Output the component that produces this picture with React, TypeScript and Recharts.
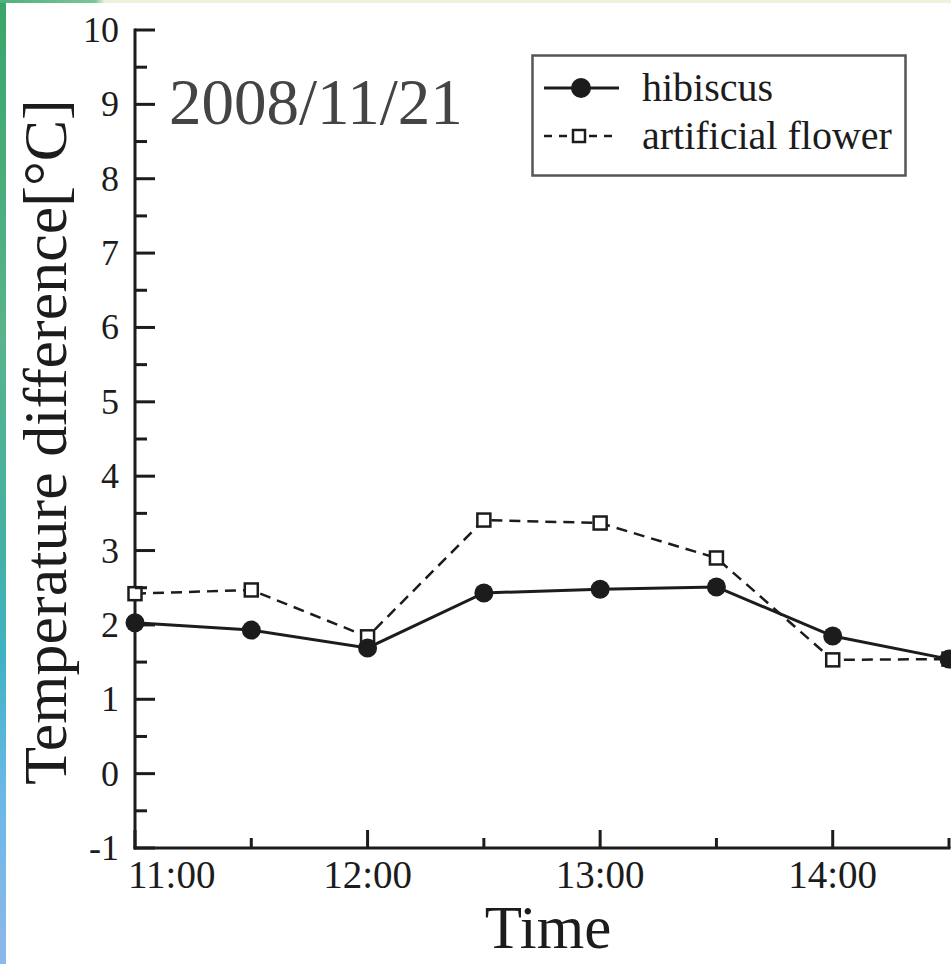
import React from "react";
import { LineChart, Line, XAxis, YAxis, Legend } from "recharts";

// time of day in hours (11.5 = 11:30)
const times = [11, 11.5, 12, 12.5, 13, 13.5, 14, 14.5];
const hibiscus = [2.03, 1.93, 1.69, 2.43, 2.48, 2.51, 1.85, 1.54];
const artificialFlower = [2.42, 2.47, 1.84, 3.41, 3.37, 2.9, 1.53, 1.54];

const xTicks = [11, 11.5, 12, 12.5, 13, 13.5, 14, 14.5];
const xTickLabels: Record<number, string> = { 11: "11:00", 12: "12:00", 13: "13:00", 14: "14:00" };
const yTicks = [-1, -0.5, 0, 0.5, 1, 1.5, 2, 2.5, 3, 3.5, 4, 4.5, 5, 5.5, 6, 6.5, 7, 7.5, 8, 8.5, 9, 9.5, 10];

const data = times.map((t, i) => ({
  time: t,
  hibiscus: hibiscus[i],
  artificial: artificialFlower[i],
}));

const FONT = "Liberation Serif, Times New Roman, serif";
const INK = "#1c1c1c";

function BottomTick(props: any) {
  const { x, y, payload } = props;
  const v = payload.value as number;
  const major = Number.isInteger(v);
  const label = xTickLabels[v];
  const first = v === xTicks[0];
  return (
    <g>
      <line x1={x} y1={y} x2={x} y2={y - (major ? 18 : 10)} stroke={INK} strokeWidth={3} />
      {label && (
        <text
          x={first ? x - 7 : x}
          y={y + 40}
          textAnchor={first ? "start" : "middle"}
          fontFamily={FONT}
          fontSize={39}
          fill={INK}
        >
          {label}
        </text>
      )}
    </g>
  );
}

function TopTick(props: any) {
  const { x, y, payload } = props;
  const major = Number.isInteger(payload.value);
  return <line x1={x} y1={y} x2={x} y2={y + (major ? 20 : 10)} stroke={INK} strokeWidth={3} />;
}

function LeftTick(props: any) {
  const { x, y, payload } = props;
  const v = payload.value as number;
  const major = Number.isInteger(v);
  return (
    <g>
      <line x1={x} y1={y} x2={x + (major ? 20 : 12)} y2={y} stroke={INK} strokeWidth={3} />
      {major && (
        <text
          x={x - 16}
          y={y + 12}
          textAnchor="end"
          fontFamily={FONT}
          fontSize={36}
          fill={INK}
        >
          {v}
        </text>
      )}
    </g>
  );
}

function RightTick(props: any) {
  const { x, y, payload } = props;
  const major = Number.isInteger(payload.value);
  return <line x1={x} y1={y} x2={x - (major ? 20 : 12)} y2={y} stroke={INK} strokeWidth={3} />;
}

function LegendBox() {
  return (
    <svg width={376} height={124} style={{ display: "block" }}>
      <rect x={1.5} y={1.5} width={373} height={120} fill="#fff" stroke="#555" strokeWidth={2.5} />
      <line x1={13} y1={34} x2={88} y2={34} stroke={INK} strokeWidth={3} />
      <circle cx={50} cy={34} r={10} fill={INK} />
      <text x={111} y={47} fontFamily={FONT} fontSize={40} fill={INK}>
        hibiscus
      </text>
      <line x1={13} y1={82} x2={88} y2={82} stroke={INK} strokeWidth={2.5} strokeDasharray="8 7" />
      <rect x={42} y={76} width={12} height={12} fill="#fff" stroke={INK} strokeWidth={2.5} />
      <text x={111} y={95} fontFamily={FONT} fontSize={40} fill={INK}>
        artificial flower
      </text>
    </svg>
  );
}

export default function App() {
  return (
    <div
      style={{
        position: "absolute",
        left: 0,
        top: 0,
        width: 951,
        height: 964,
        background: "#fff",
        overflow: "hidden",
      }}
    >
      <div
        style={{
          position: "absolute",
          left: 0,
          top: 0,
          width: 6,
          height: 964,
          background:
            "linear-gradient(to bottom, #3aa56a 0%, #58b48c 35%, #45b0a0 55%, #3fb2c4 68%, #6ab8e6 82%, #8db8ea 100%)",
        }}
      />
      <div
        style={{
          position: "absolute",
          left: 0,
          top: 0,
          width: 951,
          height: 3,
          background: "linear-gradient(to right, #4fb27a 0%, #7cc49a 10%, #eef2d8 11%, #eef2d8 100%)",
        }}
      />
      <div
        style={{
          position: "absolute",
          left: 169,
          top: 62,
          fontFamily: FONT,
          fontSize: 65,
          color: "#444",
          lineHeight: "80px",
          whiteSpace: "nowrap",
        }}
      >
        2008/11/21
      </div>
      <LineChart
        width={951}
        height={964}
        data={data}
        margin={{ top: 30, right: 2, bottom: 0, left: 0 }}
        style={{ position: "absolute", left: 0, top: 0 }}
      >
        <XAxis
          xAxisId="b"
          dataKey="time"
          type="number"
          domain={[11, 14.5]}
          ticks={xTicks}
          interval={0}
          height={116}
          tickSize={0}
          tickMargin={0}
          tickLine={false}
          axisLine={{ stroke: INK, strokeWidth: 3, strokeLinecap: "square" }}
          tick={<BottomTick />}
          label={{
            content: (p: any) => (
              <text
                x={p.viewBox.x + p.viewBox.width / 2 + 6}
                y={p.viewBox.y + 100}
                textAnchor="middle"
                fontFamily={FONT}
                fontSize={61}
                fill={INK}
              >
                Time
              </text>
            ),
          }}
        />
        <XAxis
          xAxisId="t"
          dataKey="time"
          type="number"
          orientation="top"
          domain={[11, 14.5]}
          ticks={xTicks}
          interval={0}
          height={0}
          tickSize={0}
          tickMargin={0}
          tickLine={false}
          axisLine={{ stroke: INK, strokeWidth: 3, strokeLinecap: "square" }}
          tick={<TopTick />}
        />
        <YAxis
          yAxisId="l"
          type="number"
          domain={[-1, 10]}
          ticks={yTicks}
          interval={0}
          width={135}
          tickSize={0}
          tickMargin={0}
          tickLine={false}
          axisLine={{ stroke: INK, strokeWidth: 3, strokeLinecap: "square" }}
          tick={<LeftTick />}
          label={{
            content: (p: any) => {
              const cx = 66;
              const cy = p.viewBox.y + p.viewBox.height / 2 + 3;
              return (
                <text
                  x={cx}
                  y={cy}
                  transform={`rotate(-90 ${cx} ${cy})`}
                  textAnchor="middle"
                  fontFamily={FONT}
                  fontSize={62}
                  fill={INK}
                >
                  Temperature difference[°C]
                </text>
              );
            },
          }}
        />
        <YAxis
          yAxisId="r"
          orientation="right"
          type="number"
          domain={[-1, 10]}
          ticks={yTicks}
          interval={0}
          width={0}
          tickSize={0}
          tickMargin={0}
          tickLine={false}
          axisLine={{ stroke: INK, strokeWidth: 3, strokeLinecap: "square" }}
          tick={<RightTick />}
        />
        <Legend
          layout="horizontal"
          align="center"
          verticalAlign="middle"
          content={() => <LegendBox />}
          wrapperStyle={{ position: "absolute", left: 531, top: 54, width: 376, height: 124 }}
        />
        <Line
          xAxisId="b"
          yAxisId="l"
          dataKey="artificial"
          type="linear"
          stroke={INK}
          strokeWidth={2.5}
          strokeDasharray="11 7"
          isAnimationActive={false}
          dot={(p: any) => (
            <rect
              key={`a-${p.index}`}
              x={p.cx - 6.5}
              y={p.cy - 6.5}
              width={13}
              height={13}
              fill="#fff"
              stroke={INK}
              strokeWidth={2.5}
            />
          )}
          activeDot={false}
        />
        <Line
          xAxisId="b"
          yAxisId="l"
          dataKey="hibiscus"
          type="linear"
          stroke={INK}
          strokeWidth={3}
          isAnimationActive={false}
          dot={(p: any) => <circle key={`h-${p.index}`} cx={p.cx} cy={p.cy} r={9.5} fill={INK} />}
          activeDot={false}
        />
      </LineChart>
    </div>
  );
}
